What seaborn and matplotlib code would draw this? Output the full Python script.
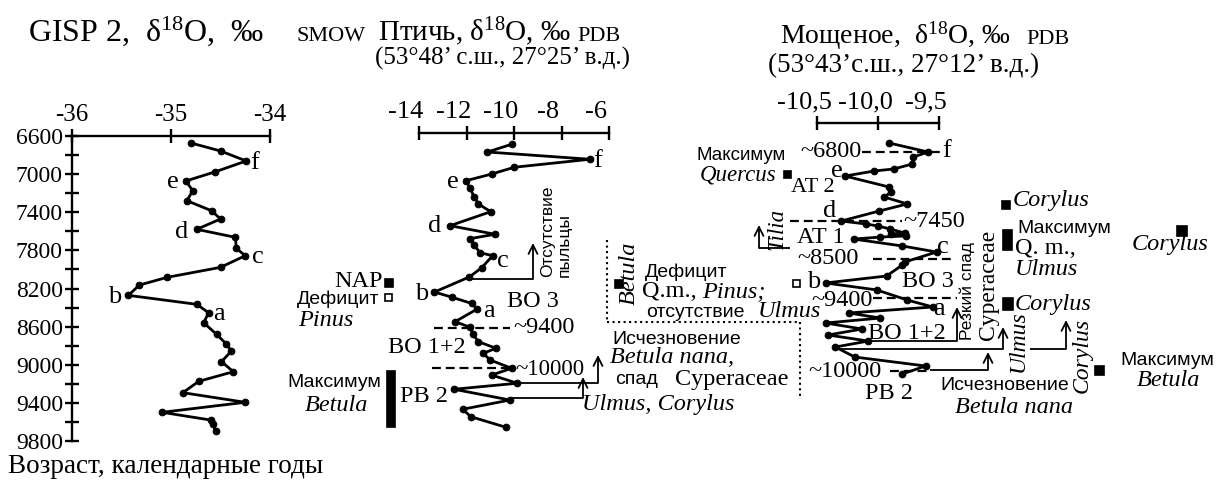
import matplotlib
matplotlib.use('Agg')
import matplotlib.pyplot as plt
import matplotlib.transforms as mtransforms
from matplotlib.patches import Rectangle
import pandas as pd
import seaborn as sns

# ---------------- data ----------------
gisp_d18o = [-34.80, -34.50, -34.24, -34.56, -34.85, -34.78, -34.84, -34.59, -34.50, -34.74,
             -34.35, -34.34, -34.25, -34.50, -35.04, -35.32, -35.43, -34.74, -34.62, -34.67,
             -34.54, -34.44, -34.39, -34.49, -34.37, -34.72, -34.88, -34.25, -35.09, -34.60,
             -34.58, -34.55]
gisp_age = [6673, 6757, 6862, 6978, 7072, 7174, 7279, 7384, 7471, 7579,
            7663, 7779, 7856, 7978, 8083, 8164, 8272, 8366, 8454, 8559,
            8681, 8783, 8856, 8968, 9073, 9174, 9293, 9394, 9499, 9580,
            9622, 9692]

ptich_d18o = [-10.10, -11.12, -6.80, -9.99, -10.94, -12.02, -11.85, -11.68, -11.50, -10.98,
              -12.69, -10.80, -11.85, -11.68, -11.43, -10.90, -11.36, -11.88, -13.35, -12.62,
              -11.78, -11.56, -12.48, -11.85, -11.74, -11.50, -10.76, -11.29, -11.01, -10.10,
              -10.94, -9.86, -12.53, -10.17, -12.16, -11.82, -10.34]
ptich_age = [6687, 6768, 6844, 6928, 6999, 7069, 7149, 7237, 7313, 7394,
             7541, 7631, 7677, 7744, 7824, 7856, 7982, 8079, 8237, 8291,
             8357, 8417, 8548, 8607, 8677, 8758, 8827, 8880, 8950, 9037,
             9108, 9194, 9257, 9370, 9467, 9545, 9656]

mosch_d18o = [-9.91, -9.59, -9.71, -9.72, -9.87, -10.03, -10.27, -9.91, -9.89, -9.95,
              -9.76, -9.99, -10.30, -10.10, -10.00, -9.90, -9.78, -9.89, -9.77, -9.98,
              -10.20, -9.80, -9.52, -9.78, -9.80, -9.93, -10.43, -10.01, -9.76, -9.55,
              -10.24, -9.98, -10.43, -10.13, -10.41, -10.08, -10.35, -10.19, -9.61, -9.80]
mosch_age = [6673, 6768, 6820, 6894, 6946, 6967, 7020, 7135, 7188, 7240,
             7313, 7387, 7492, 7523, 7544, 7576, 7618, 7628, 7649, 7660,
             7681, 7754, 7817, 7922, 7953, 8069, 8142, 8215, 8321, 8394,
             8457, 8510, 8562, 8625, 8688, 8751, 8814, 8919, 9013, 9097]

gisp_ticks = [-36, -35, -34]
gisp_ticklabels = ['-36', '-35', '-34']
ptich_ticks = [-14, -12, -10, -8, -6]
ptich_ticklabels = ['-14', '-12', '-10', '-8', '-6']
mosch_ticks = [-10.5, -10.0, -9.5]
mosch_ticklabels = ['-10,5', '-10,0', '-9,5']
age_major = [6600, 7000, 7400, 7800, 8200, 8600, 9000, 9400, 9800]
age_minor = [6800, 7200, 7600, 8000, 8400, 8800, 9200, 9600]
point_labels = ['a', 'b', 'c', 'd', 'e', 'f']

# ---------------- style ----------------
sns.set_style('white')
SERIF = ['Liberation Serif', 'DejaVu Serif']
SANS = ['Liberation Sans', 'DejaVu Sans']
plt.rcParams['font.family'] = SERIF
plt.rcParams['mathtext.fontset'] = 'custom'
plt.rcParams['mathtext.rm'] = 'Liberation Serif'
plt.rcParams['mathtext.it'] = 'Liberation Serif:italic'
plt.rcParams['axes.unicode_minus'] = False

W, H = 1222, 482
fig = plt.figure(figsize=(W / 100, H / 100), dpi=100)
fig.patch.set_facecolor('white')

Y0_PX, PX_PER_YEAR = 136, 305 / 3200

SZ_SERIF = 17.5
SZ_ITAL = 17.5
SZ_SANS = 14
SZ_LBL = 19


def age_at(py):
    return 6600 + (py - Y0_PX) / PX_PER_YEAR


def px_axes(x0, y0, x1, y1):
    return fig.add_axes([x0 / W, 1 - y1 / H, (x1 - x0) / W, (y1 - y0) / H])


def style_axes(ax, ticks, labels, xlim, top_px, shift_px, lsize):
    ax.set_xlim(*xlim)
    ax.set_ylim(9800, age_at(top_px))
    ax.patch.set_alpha(0)
    for s in ['right', 'bottom', 'left']:
        ax.spines[s].set_visible(False)
    ax.spines['top'].set_visible(True)
    ax.spines['top'].set_linewidth(1.7)
    ax.spines['top'].set_color('black')
    ax.xaxis.tick_top()
    ax.set_xticks(ticks)
    ax.set_xticklabels(labels)
    ax.tick_params(axis='x', direction='inout', length=10, width=1.7, labelsize=lsize,
                   pad=2, top=True, bottom=False, colors='black')
    ax.set_xlabel('')
    ax.set_ylabel('')
    ax.grid(False)
    if shift_px:
        off = mtransforms.ScaledTranslation(shift_px / 100, 0, fig.dpi_scale_trans)
        for lbl in ax.get_xticklabels():
            lbl.set_transform(lbl.get_transform() + off)


def draw_curve(ax, xs, ys):
    df = pd.DataFrame({'d18O': xs, 'age': ys})
    sns.lineplot(data=df, x='d18O', y='age', ax=ax, sort=False, estimator=None,
                 color='black', linewidth=2.0, marker='o', markersize=4.8,
                 markeredgecolor='black', markerfacecolor='black', clip_on=False)


# GISP 2 panel
ax1 = px_axes(72, 136, 270, 441)
draw_curve(ax1, gisp_d18o, gisp_age)
style_axes(ax1, gisp_ticks, gisp_ticklabels, (-36, -34), 136, 0, 18)
ax1.spines['left'].set_visible(True)
ax1.spines['left'].set_linewidth(1.7)
ax1.spines['left'].set_color('black')
ax1.yaxis.tick_left()
ax1.set_yticks(age_major)
ax1.set_yticks(age_minor, minor=True)
ax1.set_yticklabels([str(a) for a in age_major])
ax1.tick_params(axis='y', which='both', direction='inout', length=10, width=1.7,
                labelsize=17, pad=1.5, left=True, right=False, colors='black')

# Ptich panel
ax2 = px_axes(419, 133, 609, 441)
draw_curve(ax2, ptich_d18o, ptich_age)
style_axes(ax2, ptich_ticks, ptich_ticklabels, (-14, -6), 133, -13, 19)
ax2.set_yticks([])

# Moshchenoe panel
ax3 = px_axes(817, 123, 939, 441)
draw_curve(ax3, mosch_d18o, mosch_age)
style_axes(ax3, mosch_ticks, mosch_ticklabels, (-10.5, -9.5), 123, -13, 19)
ax3.set_yticks([])

# ---------------- annotation overlay (pixel coordinates) ----------------
ov = fig.add_axes([0, 0, 1, 1], zorder=5)
ov.set_xlim(0, W)
ov.set_ylim(H, 0)
ov.axis('off')
ov.patch.set_alpha(0)


def txt(x, y, s, size=SZ_SERIF, fam=SERIF, style='normal', ha='left', va='baseline', rot=0):
    ov.text(x, y, s, fontsize=size, family=fam, style=style, ha=ha, va=va,
            rotation=rot, color='black')


def sans(x, y, s, size=SZ_SANS, **kw):
    txt(x, y, s, size=size, fam=SANS, **kw)


def ital(x, y, s, size=SZ_ITAL, **kw):
    txt(x, y, s, size=size, style='italic', **kw)


def sq(x, y, w, h, filled=True):
    ov.add_patch(Rectangle((x, y), w, h, facecolor='black' if filled else 'white',
                           edgecolor='black', linewidth=1.2))


def line(xs, ys, ls='-', lw=1.3):
    ov.plot(xs, ys, color='black', lw=lw, ls=ls, solid_capstyle='butt')


def dashed(x0, x1, y):
    line([x0, x1], [y, y], ls=(0, (4, 2.2)), lw=1.6)


def up_arrow(x, y0, y1):
    ov.annotate('', xy=(x, y1), xytext=(x, y0),
                arrowprops=dict(arrowstyle='->', color='black', lw=1.3,
                                shrinkA=0, shrinkB=0, mutation_scale=16))


# titles
txt(28, 41, 'GISP 2,  δ$^{\\mathregular{18}}$O,  ‰', size=23)
txt(297, 41, 'SMOW', size=16)
txt(378, 41, 'Птичь, δ$^{\\mathregular{18}}$O, ‰', size=21)
txt(577, 41, 'PDB', size=16)
txt(375, 65, '(53°48’ с.ш., 27°25’ в.д.)', size=18)
txt(780, 44, 'Мощеное,  δ$^{\\mathregular{18}}$O, ‰', size=20)
txt(1026, 44, 'PDB', size=16)
txt(768, 72, '(53°43’с.ш., 27°12’ в.д.)', size=19.5)
txt(8, 473, 'Возраст, календарные годы', size=19.5)

# a-f labels
for (x, y), s in zip([(213, 320), (108, 303), (252, 263), (175, 238), (167, 188), (250, 169)],
                     point_labels):
    txt(x, y, s, size=SZ_LBL)
for (x, y), s in zip([(483, 317), (415, 300), (497, 267), (428, 232), (447, 188), (593, 167)],
                     point_labels):
    txt(x, y, s, size=SZ_LBL)
for (x, y), s in zip([(933, 315), (807, 288), (937, 253), (823, 217), (831, 177), (942, 157)],
                     point_labels):
    txt(x, y, s, size=SZ_LBL)

# ---- Ptich annotations ----
txt(383, 287, 'NAP', ha='right')
sq(385, 279, 8, 8)
sans(297, 304, 'Дефицит')
sq(385, 294, 7, 7, filled=False)
ital(298, 326, 'Pinus')
txt(507, 307, 'BO 3')
dashed(434, 510, 328)
txt(513, 333, '~9400')
txt(388, 353, 'BO 1+2')
dashed(432, 513, 368)
txt(515, 375, '~10000', size=16.5)
sans(287, 387, 'Максимум')
ital(305, 411, 'Betula')
sq(387, 371, 8, 56)
txt(400, 402, 'PB 2')

# pollen absence arrow
line([470, 533], [279, 279])
up_arrow(533, 279, 243)
sans(548, 277, 'Отсутствие', size=12.5, ha='center', va='bottom', rot=90)
sans(564, 277, 'пыльцы', size=12.5, ha='center', va='bottom', rot=90)

# Betula nana / Cyperaceae arrow
line([517, 598], [383, 383])
up_arrow(598, 383, 355)
# Ulmus, Corylus arrow
line([510, 583], [398, 398])
up_arrow(583, 398, 377)
ital(582, 410, 'Ulmus, Corylus')
sans(612, 344, 'Исчезновение')
ital(610, 363, 'Betula nana,')
sans(615, 384, 'спад')
txt(675, 385, 'Cyperaceae')

# dotted box
line([607, 607], [240, 322], ls=':', lw=1.5)
line([607, 800], [322, 322], ls=':', lw=1.5)
line([800, 800], [322, 397], ls=':', lw=1.5)
ital(629, 305, 'Betula', ha='center', va='bottom', rot=90)
sq(615, 280, 8, 8)
sans(645, 277, 'Дефицит')
txt(642, 297, 'Q.m.,')
ital(702, 297, 'Pinus;')
sans(646, 317, 'отсутствие')
ital(758, 317, 'Ulmus')

# ---- Moshchenoe annotations ----
sans(696, 160, 'Максимум', size=13.5)
ital(700, 181, 'Quercus', size=16.5)
sq(784, 171, 7, 7)
txt(791, 192, 'AT 2', size=16)
txt(800, 157, '~6800')
dashed(862, 943, 152)
dashed(790, 902, 221)
txt(903, 227, '~7450')
line([759, 790], [248, 248])
up_arrow(759, 248, 225)
ital(777, 250, 'Tilia', size=16.5, ha='center', va='bottom', rot=90)
txt(797, 243, 'AT 1')
txt(797, 264, '~8500')
dashed(873, 952, 259)
sq(793, 280, 7, 7, filled=False)
txt(902, 287, 'BO 3')
txt(811, 306, '~9400')
dashed(873, 957, 298)
txt(868, 339, 'BO 1+2')
txt(808, 377, '~10000')
dashed(890, 930, 371)
line([930, 988], [370, 370])
up_arrow(988, 370, 352)
txt(865, 399, 'PB 2')
sans(940, 390, 'Исчезновение')
ital(955, 413, 'Betula nana')

# Cyperaceae drop arrow
line([870, 957], [341, 341])
up_arrow(957, 341, 307)
sans(967, 340, 'Резкий спад', size=12.5, ha='center', va='bottom', rot=90)
txt(988, 340, 'Cyperaceae', size=17, ha='center', va='bottom', rot=90)

# Ulmus / Corylus arrows
line([835, 1003], [349, 349])
up_arrow(1003, 349, 327)
ital(1018, 372, 'Ulmus', size=17, ha='center', va='bottom', rot=90)
line([1030, 1066], [349, 349])
up_arrow(1066, 349, 320)
ital(1082, 393, 'Corylus', size=17, ha='center', va='bottom', rot=90)

sq(1002, 201, 8, 8)
ital(1013, 206, 'Corylus')
sq(1003, 230, 9, 20)
sans(1017, 233, 'Максимум')
txt(1015, 254, 'Q. m.,')
ital(1015, 275, 'Ulmus')
sq(1003, 298, 10, 12)
ital(1015, 310, 'Corylus')
sq(1177, 226, 10, 10)
ital(1132, 250, 'Corylus')
sq(1095, 366, 9, 9)
sans(1120, 365, 'Максимум')
ital(1137, 386, 'Betula')

fig.savefig('out.png', dpi=100, facecolor='white')
